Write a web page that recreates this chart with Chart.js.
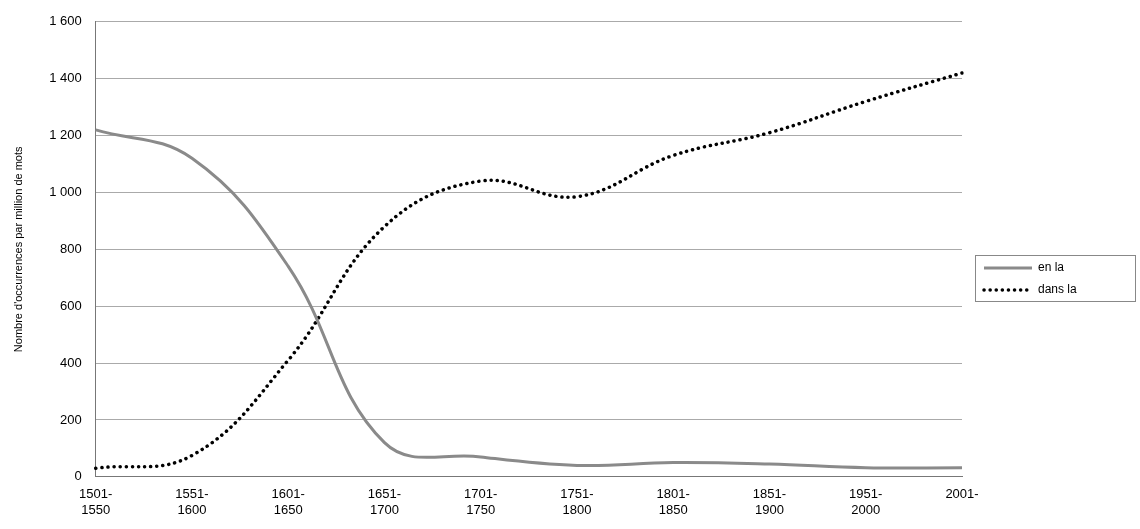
<!DOCTYPE html>
<html>
<head>
<meta charset="utf-8">
<script src="https://cdn.jsdelivr.net/npm/chart.js@4"></script>
<style>
  html, body { margin: 0; padding: 0; background: #fff; }
</style>
</head>
<body>
<canvas id="chart" width="1140" height="529"></canvas>
<script>
const periodes = [['1501-', '1550'], ['1551-', '1600'], ['1601-', '1650'], ['1651-', '1700'], ['1701-', '1750'],
                  ['1751-', '1800'], ['1801-', '1850'], ['1851-', '1900'], ['1951-', '2000'], ['2001-', '']];
const enLa   = [1220, 1120, 740, 120, 70, 40, 50, 45, 32, 32];
const dansLa = [30, 75, 410, 880, 1040, 985, 1130, 1210, 1320, 1420];

// légende encadrée à droite, dessinée à la main
const legendeBoite = {
    id: 'legendeBoite',
    afterDraw(chart) {
        const c = chart.ctx;
        c.save();
        c.strokeStyle = '#888';
        c.lineWidth = 1;
        c.strokeRect(975.5, 255.5, 160, 46);
        chart.data.datasets.forEach((ds, i) => {
            const y = 268 + i * 22;
            c.beginPath();
            c.strokeStyle = ds.borderColor;
            c.lineWidth = ds.borderWidth;
            c.lineCap = ds.borderCapStyle || 'butt';
            c.setLineDash(ds.borderDash || []);
            c.moveTo(984, y);
            c.lineTo(1032, y);
            c.stroke();
            c.setLineDash([]);
            c.fillStyle = '#000';
            c.font = '12px "Liberation Sans", Arial, sans-serif';
            c.textBaseline = 'middle';
            c.fillText(ds.label, 1038, y);
        });
        c.restore();
    }
};

new Chart(document.getElementById('chart').getContext('2d'), {
    type: 'line',
    data: {
        labels: periodes,
        datasets: [{
            label: 'en la',
            data: enLa,
            borderColor: '#8a8a8a',
            borderWidth: 3,
            tension: 0.4,
            pointRadius: 0
        }, {
            label: 'dans la',
            data: dansLa,
            borderColor: '#000',
            borderWidth: 3.5,
            borderDash: [0.1, 6],
            borderCapStyle: 'round',
            tension: 0.4,
            pointRadius: 0
        }]
    },
    plugins: [legendeBoite],
    options: {
        responsive: false,
        animation: false,
        layout: { padding: { top: 15, right: 178, left: 12, bottom: 9 } },
        plugins: { legend: { display: false }, tooltip: { enabled: false } },
        scales: {
            x: {
                offset: false,
                grid: { display: false },
                border: { color: '#777' },
                ticks: { color: '#000', maxRotation: 0, autoSkip: false, padding: 2,
                         font: { size: 13, family: '"Liberation Sans", Arial, sans-serif' } }
            },
            y: {
                min: 0, max: 1600,
                ticks: { stepSize: 200, color: '#000', padding: 14,
                         font: { size: 13, family: '"Liberation Sans", Arial, sans-serif' },
                         callback: v => v >= 1000 ? String(v).replace(/(\d)(\d{3})$/, '$1 $2') : v },
                grid: { color: '#aaa', drawTicks: false },
                border: { color: '#777', width: 1 },
                title: { display: true, text: "Nombre d'occurrences par million de mots", color: '#000',
                         padding: { top: 0, bottom: 10 },
                         font: { size: 11, family: '"Liberation Sans", Arial, sans-serif' } }
            }
        }
    }
});
</script>
</body>
</html>
